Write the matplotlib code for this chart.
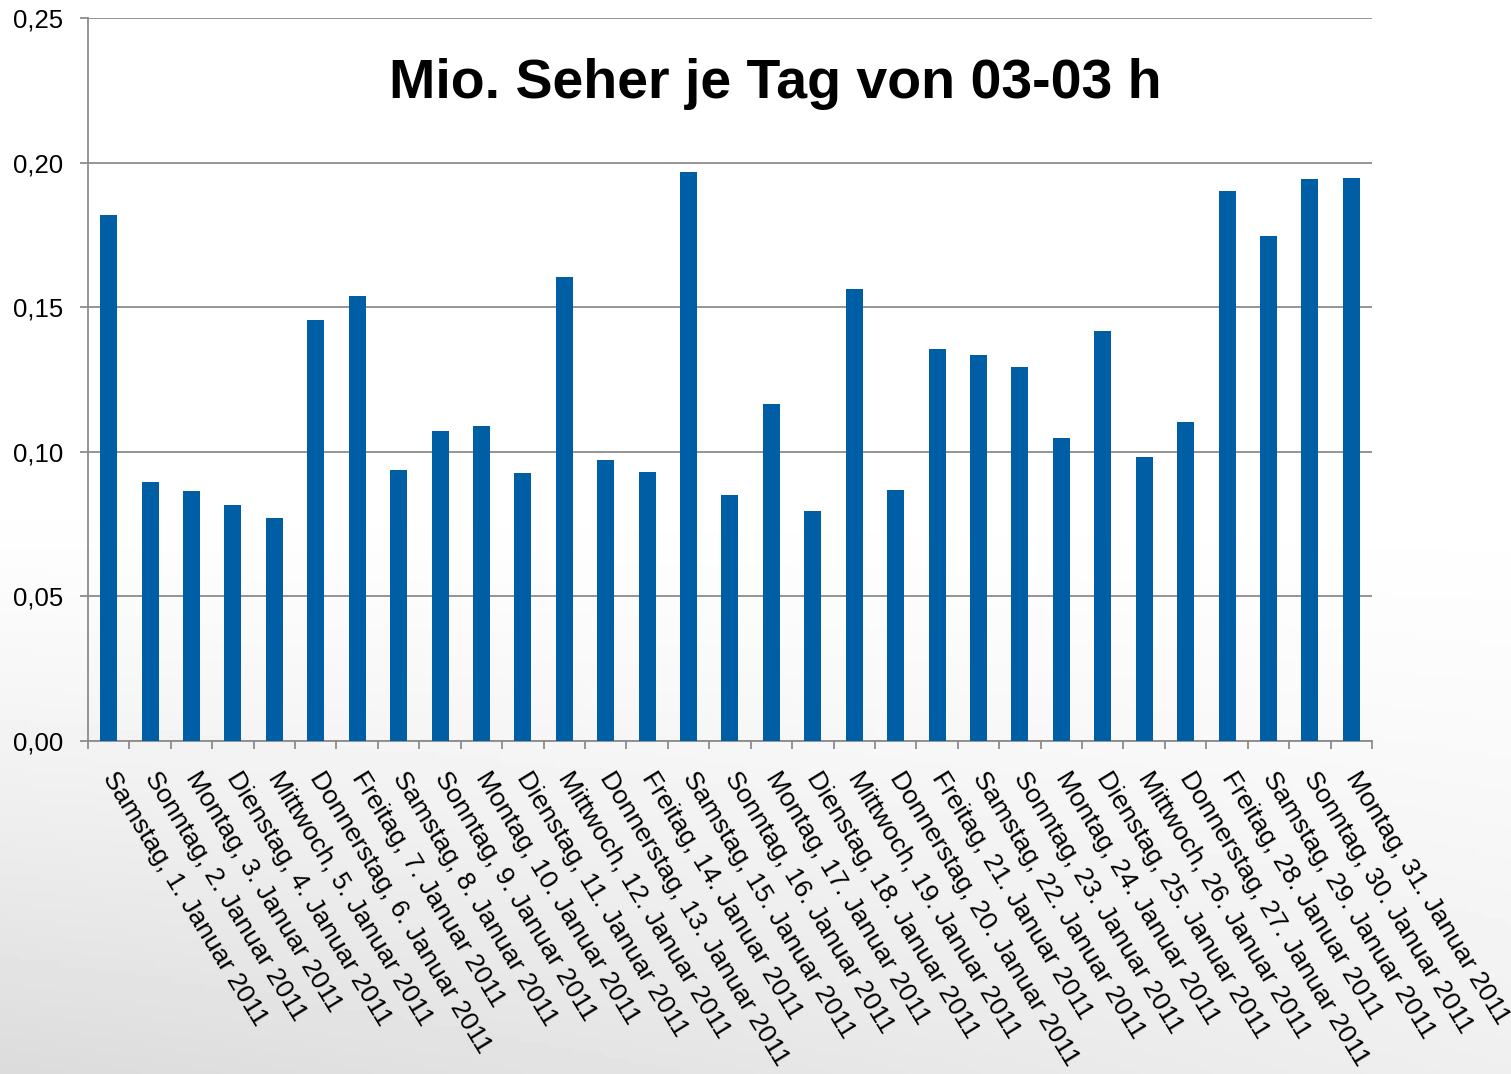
import numpy as np
import matplotlib
matplotlib.use('Agg')
import matplotlib.pyplot as plt
import matplotlib.transforms as mtransforms
from matplotlib.ticker import FuncFormatter, FixedLocator

plt.rcParams['font.family'] = ['Liberation Sans', 'DejaVu Sans']

# Daten: Mio. Seher je Tag (Januar 2011)
days = ['Samstag', 'Sonntag', 'Montag', 'Dienstag', 'Mittwoch', 'Donnerstag', 'Freitag',
        'Samstag', 'Sonntag', 'Montag', 'Dienstag', 'Mittwoch', 'Donnerstag', 'Freitag',
        'Samstag', 'Sonntag', 'Montag', 'Dienstag', 'Mittwoch', 'Donnerstag', 'Freitag',
        'Samstag', 'Sonntag', 'Montag', 'Dienstag', 'Mittwoch', 'Donnerstag', 'Freitag',
        'Samstag', 'Sonntag', 'Montag']
dates = list(range(1, 32))
labels = [f'{d}, {n}. Januar 2011' for d, n in zip(days, dates)]
viewers = [0.182, 0.0896, 0.0864, 0.0816, 0.0771, 0.1456, 0.1539, 0.0937, 0.1072, 0.1089,
           0.0927, 0.1604, 0.0972, 0.0930, 0.1967, 0.0851, 0.1165, 0.0795, 0.1563, 0.0868,
           0.1355, 0.1335, 0.1293, 0.1048, 0.1418, 0.0982, 0.1103, 0.1902, 0.1746, 0.1943,
           0.1947]

fig = plt.figure(figsize=(15.11, 10.74), dpi=100)

# Hintergrund mit leichtem Verlauf
bg = fig.add_axes([0, 0, 1, 1], zorder=0)
yy, xx = np.mgrid[0:1:200j, 0:1:300j]
shade = 1 - 0.14 * np.clip((yy - 0.45) / 0.55, 0, 1) ** 1.3 * (1 - 0.55 * xx)
bg.imshow(shade, cmap='gray', vmin=0, vmax=1, aspect='auto', extent=[0, 1, 0, 1])
bg.axis('off')

ax = fig.add_axes([0.0582, 0.31, 0.8498, 0.6732], zorder=1)
ax.patch.set_alpha(0)

x = np.arange(len(viewers))
ax.bar(x, viewers, width=0.41, color='#005ea5', zorder=3)

ax.set_xlim(-0.5, len(viewers) - 0.5)
ax.set_ylim(0, 0.25)
ax.set_yticks(np.arange(0, 0.26, 0.05))
ax.yaxis.set_major_formatter(FuncFormatter(lambda v, p: f'{v:.2f}'.replace('.', ',')))
ax.grid(axis='y', color='#8c8c8c', linewidth=1.3, zorder=1)
ax.set_axisbelow(True)

for s in ['top', 'right']:
    ax.spines[s].set_visible(False)
for s in ['left', 'bottom']:
    ax.spines[s].set_color('#8c8c8c')
    ax.spines[s].set_linewidth(1.3)

ax.set_xticks(x)
ax.set_xticklabels(labels, rotation=-58.5, ha='left', va='top', rotation_mode='anchor', fontsize=19)
ax.tick_params(axis='x', which='major', length=0, pad=19)
shift = mtransforms.ScaledTranslation(10 / 100, 0, fig.dpi_scale_trans)
for lbl in ax.get_xticklabels():
    lbl.set_transform(lbl.get_transform() + shift)
ax.xaxis.set_minor_locator(FixedLocator(np.arange(-0.5, len(viewers), 1.0)))
ax.tick_params(axis='x', which='minor', length=6, width=1.3, color='#8c8c8c', direction='out')
ax.tick_params(axis='y', length=6, width=1.3, color='#8c8c8c', labelsize=18.5, pad=12)

fig.text(0.513, 0.922, 'Mio. Seher je Tag von 03-03 h', ha='center', va='center',
         fontsize=40, fontweight='bold', color='black', zorder=5)

fig.savefig('out.png', dpi=100)
